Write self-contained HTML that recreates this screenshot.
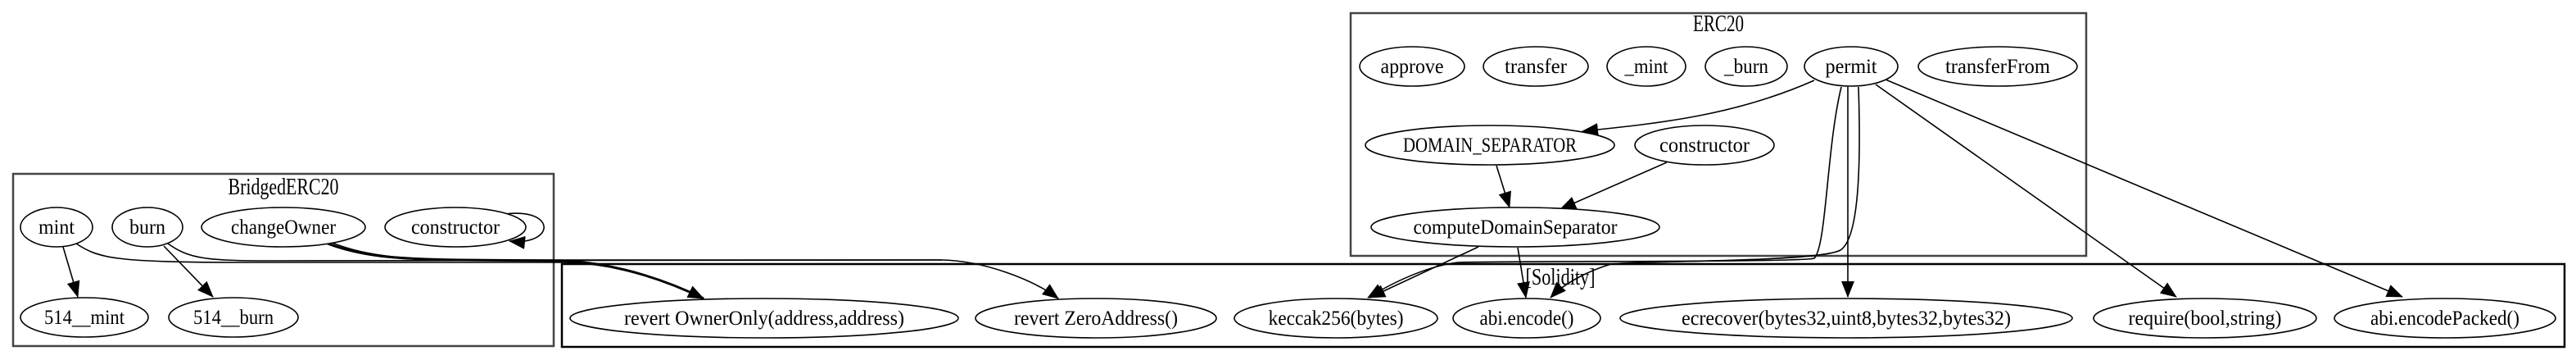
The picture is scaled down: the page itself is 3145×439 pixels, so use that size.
<!DOCTYPE html>
<html><head><meta charset="utf-8"><style>
html,body{margin:0;padding:0;background:#fff;}
svg{display:block;}
text{font-family:"Liberation Serif",serif;font-size:25px;fill:#000;}
.t{font-size:28px;}
</style></head><body>
<svg width="3145" height="439" viewBox="0 0 3145 439" xmlns="http://www.w3.org/2000/svg">
<defs>
<marker id="b" markerWidth="20" markerHeight="16" refX="19" refY="8" orient="auto" markerUnits="userSpaceOnUse" viewBox="0 0 20 16"><path d="M0,0 L20,8 L0,16 z" fill="#000"/></marker></defs>
<rect width="3145" height="439" fill="#fff"/>
<g fill="none" stroke-width="2.5">
<rect x="16" y="212" width="660" height="210" stroke="#444"/>
<rect x="1649" y="16" width="898" height="296" stroke="#444"/>
<rect x="686" y="322" width="2445" height="101" stroke="#000"/>
</g>
<g text-anchor="middle">
<text class="t" x="346" y="237" textLength="135" lengthAdjust="spacingAndGlyphs">BridgedERC20</text>
<text class="t" x="2098" y="38" textLength="62" lengthAdjust="spacingAndGlyphs">ERC20</text>
<text class="t" x="1905" y="347" textLength="85" lengthAdjust="spacingAndGlyphs">[Solidity]</text>
</g>
<g fill="none" stroke="#000" stroke-width="1.6">
<path d="M77,301 L95,362" marker-end="url(#b)"/>
<path d="M200,300 L260,362" marker-end="url(#b)"/>
<path d="M93,297 C120,315 140,320 300,320 L690,320 C760,322 820,345 859,364" marker-end="url(#b)"/>
<path d="M205,297 C230,315 250,318 330,318 L1150,317 C1200,318 1260,340 1292,364" marker-end="url(#b)"/>
<path d="M400,297 C440,312 480,316 560,317 L690,318 C760,322 820,345 859,364" stroke-width="3"/>
<path d="M405,296 C450,313 490,317 600,317 L1150,317"/>
<path d="M610,262 C680,250 680,300 622,294" marker-end="url(#b)"/>
<path d="M2215,98 C2120,140 2030,150 1932,160" marker-end="url(#b)"/>
<path d="M2248,106 C2230,180 2230,300 2215,315 C2200,320 1850,318 1780,320 C1740,325 1700,345 1670,363" marker-end="url(#b)"/>
<path d="M2269,106 C2272,200 2270,290 2247,305 C2220,320 1990,318 1967,322 C1940,330 1910,345 1893,363" marker-end="url(#b)"/>
<path d="M2256,106 L2256,362" marker-end="url(#b)"/>
<path d="M2290,103 L2657,362" marker-end="url(#b)"/>
<path d="M2302,97 L2933,362" marker-end="url(#b)"/>
<path d="M1827,202 L1843,253" marker-end="url(#b)"/>
<path d="M2035,198 L1905,255" marker-end="url(#b)"/>
<path d="M1805,301 L1672,363" marker-end="url(#b)"/>
<path d="M1853,302 L1863,363" marker-end="url(#b)"/>
</g>
<g fill="#fff" stroke="#000" stroke-width="1.6">
<ellipse cx="69" cy="277" rx="44" ry="24"/>
<ellipse cx="180" cy="277" rx="43" ry="24"/>
<ellipse cx="346" cy="277" rx="100" ry="24"/>
<ellipse cx="556" cy="277" rx="86" ry="24"/>
<ellipse cx="103" cy="387" rx="78" ry="24"/>
<ellipse cx="285" cy="387" rx="79" ry="24"/>
<ellipse cx="1724" cy="81" rx="64" ry="24"/>
<ellipse cx="1875" cy="81" rx="64" ry="24"/>
<ellipse cx="2010" cy="81" rx="48" ry="24"/>
<ellipse cx="2132" cy="81" rx="50" ry="24"/>
<ellipse cx="2260" cy="81" rx="57" ry="24"/>
<ellipse cx="2439" cy="81" rx="97" ry="24"/>
<ellipse cx="1819" cy="177" rx="152" ry="24"/>
<ellipse cx="2081" cy="177" rx="85" ry="24"/>
<ellipse cx="1850" cy="277" rx="176" ry="24"/>
<ellipse cx="933" cy="388" rx="237" ry="24"/>
<ellipse cx="1338" cy="388" rx="147" ry="24"/>
<ellipse cx="1631" cy="388" rx="124" ry="24"/>
<ellipse cx="1864" cy="388" rx="90" ry="24"/>
<ellipse cx="2254" cy="388" rx="276" ry="24"/>
<ellipse cx="2692" cy="388" rx="136" ry="24"/>
<ellipse cx="2985" cy="388" rx="135" ry="24"/>
</g>
<g text-anchor="middle">
<text x="69" y="285" textLength="44" lengthAdjust="spacingAndGlyphs">mint</text>
<text x="180" y="285" textLength="44" lengthAdjust="spacingAndGlyphs">burn</text>
<text x="346" y="285" textLength="128" lengthAdjust="spacingAndGlyphs">changeOwner</text>
<text x="556" y="285" textLength="108" lengthAdjust="spacingAndGlyphs">constructor</text>
<text x="103" y="395" textLength="98" lengthAdjust="spacingAndGlyphs">514__mint</text>
<text x="285" y="395" textLength="98" lengthAdjust="spacingAndGlyphs">514__burn</text>
<text x="1724" y="89" textLength="77" lengthAdjust="spacingAndGlyphs">approve</text>
<text x="1875" y="89" textLength="76" lengthAdjust="spacingAndGlyphs">transfer</text>
<text x="2010" y="89" textLength="53" lengthAdjust="spacingAndGlyphs">_mint</text>
<text x="2132" y="89" textLength="54" lengthAdjust="spacingAndGlyphs">_burn</text>
<text x="2260" y="89" textLength="63" lengthAdjust="spacingAndGlyphs">permit</text>
<text x="2439" y="89" textLength="128" lengthAdjust="spacingAndGlyphs">transferFrom</text>
<text x="1819" y="185" textLength="212" lengthAdjust="spacingAndGlyphs">DOMAIN_SEPARATOR</text>
<text x="2081" y="185" textLength="110" lengthAdjust="spacingAndGlyphs">constructor</text>
<text x="1850" y="285" textLength="249" lengthAdjust="spacingAndGlyphs">computeDomainSeparator</text>
<text x="933" y="396" textLength="342" lengthAdjust="spacingAndGlyphs">revert OwnerOnly(address,address)</text>
<text x="1338" y="396" textLength="200" lengthAdjust="spacingAndGlyphs">revert ZeroAddress()</text>
<text x="1631" y="396" textLength="165" lengthAdjust="spacingAndGlyphs">keccak256(bytes)</text>
<text x="1864" y="396" textLength="115" lengthAdjust="spacingAndGlyphs">abi.encode()</text>
<text x="2254" y="396" textLength="402" lengthAdjust="spacingAndGlyphs">ecrecover(bytes32,uint8,bytes32,bytes32)</text>
<text x="2692" y="396" textLength="187" lengthAdjust="spacingAndGlyphs">require(bool,string)</text>
<text x="2985" y="396" textLength="182" lengthAdjust="spacingAndGlyphs">abi.encodePacked()</text>
</g>
</svg>
</body></html>
